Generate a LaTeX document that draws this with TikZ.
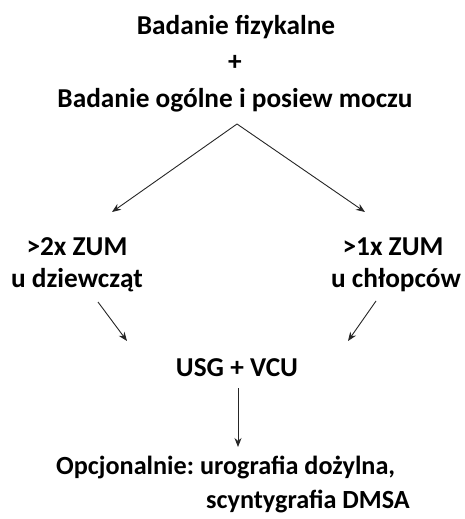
\documentclass[tikz,border=0pt]{standalone}
\usepackage{fontspec}
\setmainfont{Carlito}
\usetikzlibrary{arrows.meta}
\frenchspacing
\begin{document}
\begin{tikzpicture}[x=1pt,y=-1pt,
  label/.style={font=\bfseries\fontsize{27.3}{33}\selectfont, inner sep=0pt, text=black},
  note/.style={font=\bfseries\fontsize{26.2}{31}\selectfont, inner sep=0pt, text=black},
  link/.style={draw=black!85, line width=0.9pt, -{Stealth[length=9pt,width=7pt]}}]
\useasboundingbox (0,0) rectangle (465,519);
\node[label] (t1) at (236,27) {Badanie fizykalne};
\node[label] (plus) at (235,63) {+};
\node[label] (t2) at (235,100) {Badanie ogólne i posiew moczu};
\coordinate (apex) at (237,124);
\coordinate (ltip) at (112,212);
\coordinate (rtip) at (365,212);
\node[label] (l1) at (77,247) {>2x ZUM};
\node[label] (l2) at (77,280) {u dziewcząt};
\node[label] (r1) at (393,247) {>1x ZUM};
\node[label] (r2) at (396,280) {u chłopców};
\coordinate (ls) at (98,302);
\coordinate (le) at (127,341);
\coordinate (rs) at (376,301);
\coordinate (re) at (348,341);
\node[label] (usg) at (237,368) {USG + VCU};
\coordinate (vs) at (238,388);
\coordinate (ve) at (238,447);
\node[note,anchor=west] (o1) at (56,468) {Opcjonalnie: urografia dożylna,};
\node[note,anchor=west] (o2) at (206,502) {scyntygrafia DMSA};
\draw[link] (apex) -- (ltip);
\draw[link] (apex) -- (rtip);
\draw[link] (ls) -- (le);
\draw[link] (rs) -- (re);
\draw[link] (vs) -- (ve);
\end{tikzpicture}
\end{document}
